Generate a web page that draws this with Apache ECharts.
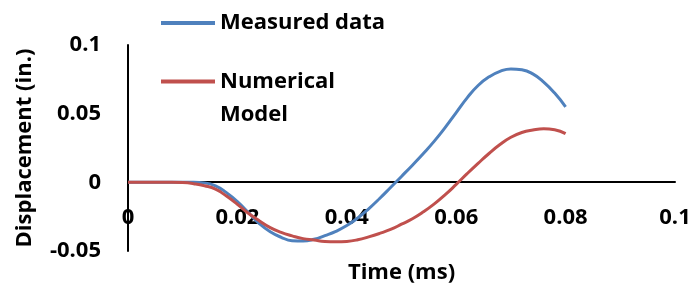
<!DOCTYPE html>
<html>
<head>
    <meta charset="utf-8">
    <title>Displacement</title>
    <script src="https://cdn.jsdelivr.net/npm/echarts@6/dist/echarts.min.js"></script>
</head>
<body style="margin:0">
<div id="main" style="width:694px;height:289px;"></div>
<script type="text/javascript">
    // time (ms) and displacement (in.)
    var timeMs = [0, 0.004, 0.008, 0.010, 0.012, 0.014, 0.016, 0.018, 0.020, 0.022, 0.024, 0.026, 0.028,
        0.030, 0.032, 0.034, 0.036, 0.038, 0.040, 0.042, 0.044, 0.046, 0.048, 0.050, 0.052,
        0.054, 0.056, 0.058, 0.060, 0.062, 0.064, 0.066, 0.068, 0.070, 0.072, 0.074, 0.076,
        0.078, 0.080];
    var measured = [0, 0, 0, 0, 0, -0.0004, -0.0025, -0.0075, -0.014, -0.022, -0.030, -0.036, -0.040,
        -0.0425, -0.0428, -0.0415, -0.0388, -0.0357, -0.0315, -0.026, -0.0193, -0.0118, -0.0038, 0.0043, 0.0125,
        0.021, 0.030, 0.040, 0.0508, 0.0615, 0.0705, 0.0768, 0.0808, 0.0826, 0.082, 0.079, 0.073,
        0.065, 0.055];
    var numerical = [0, 0, 0, -0.0002, -0.001, -0.0025, -0.005, -0.010, -0.016, -0.0225, -0.028, -0.033, -0.0365,
        -0.039, -0.041, -0.042, -0.043, -0.0433, -0.043, -0.0418, -0.0397, -0.0372, -0.0343, -0.0305, -0.0265,
        -0.0215, -0.0157, -0.009, -0.0015, 0.0063, 0.0138, 0.021, 0.0275, 0.0328, 0.0363, 0.0381, 0.039,
        0.0383, 0.0355];
    var xTicks = [0, 0.02, 0.04, 0.06, 0.08, 0.1];
    var yTicks = [-0.05, 0, 0.05, 0.1];

    function pairs(xs, ys) {
        var out = [];
        for (var i = 0; i < xs.length; i++) {
            out.push([xs[i], ys[i]]);
        }
        return out;
    }

    var font = '"Open Sans", sans-serif';
    var txt = {fontFamily: font, fontWeight: 'bold', fontSize: 22, color: '#000'};

    var myChart = echarts.init(document.getElementById('main'));
    var option = {
        animation: false,
        grid: {left: 128, right: 19, top: 45, bottom: 38, containLabel: false, outerBoundsMode: 'none'},
        legend: [
            {
                left: 156, top: 7,
                icon: 'rect', itemWidth: 54, itemHeight: 4,
                textStyle: txt,
                data: ['Measured data']
            },
            {
                // blank first line keeps "Numerical" level with the line icon
                left: 156, top: 27,
                icon: 'rect', itemWidth: 54, itemHeight: 4,
                textStyle: Object.assign({}, txt, {lineHeight: 33}),
                formatter: function () { return ' \nNumerical\nModel'; },
                data: ['Numerical Model']
            }
        ],
        xAxis: {
            type: 'value',
            min: 0, max: 0.1, interval: 0.02,
            // axis sits on the zero line: 0 is 69px above the grid bottom
            offset: -69,
            name: 'Time (ms)',
            nameLocation: 'middle',
            nameGap: 80,
            nameTextStyle: txt,
            axisLine: {onZero: false, lineStyle: {color: '#000', width: 2}},
            axisTick: {show: false},
            splitLine: {show: false},
            axisLabel: Object.assign({}, txt, {
                margin: 25,
                formatter: function (v) { return xTicks.indexOf(v) >= 0 ? String(v) : ''; }
            })
        },
        yAxis: {
            type: 'value',
            min: -0.05, max: 0.1, interval: 0.05,
            name: 'Displacement (in.)',
            nameLocation: 'middle',
            nameGap: 92,
            nameRotate: 90,
            nameTextStyle: txt,
            axisLine: {show: true, onZero: false, lineStyle: {color: '#000', width: 2}},
            axisTick: {show: false},
            splitLine: {show: false},
            axisLabel: Object.assign({}, txt, {
                margin: 27,
                formatter: function (v) { return yTicks.indexOf(v) >= 0 ? String(v) : ''; }
            })
        },
        series: [
            {
                name: 'Measured data',
                type: 'line',
                data: pairs(timeMs, measured),
                smooth: 0.5,
                symbol: 'none',
                color: '#4F81BD',
                lineStyle: {width: 3}
            },
            {
                name: 'Numerical Model',
                type: 'line',
                data: pairs(timeMs, numerical),
                smooth: 0.5,
                symbol: 'none',
                color: '#C0504D',
                lineStyle: {width: 3}
            }
        ]
    };
    myChart.setOption(option);
</script>
</body>
</html>
